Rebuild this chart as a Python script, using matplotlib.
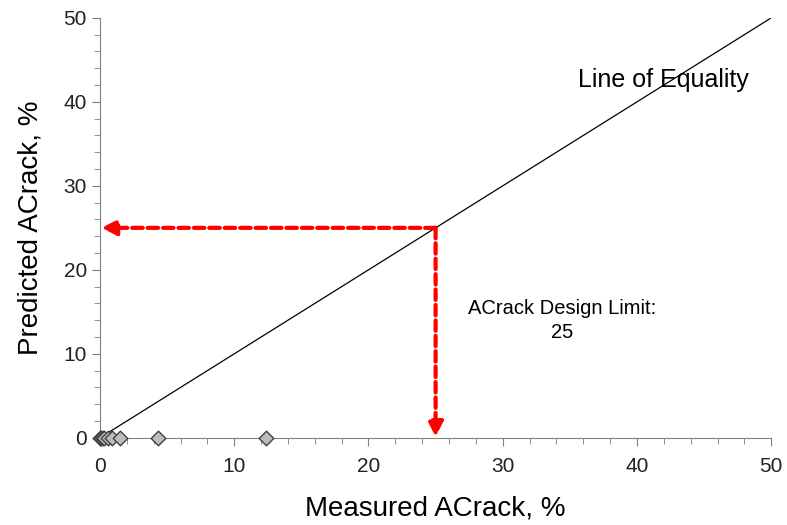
import matplotlib
matplotlib.use("Agg")
import matplotlib.pyplot as plt
from matplotlib.ticker import MultipleLocator

plt.rcParams['font.family'] = ['Liberation Sans', 'DejaVu Sans']

# measured vs predicted ACrack (%)
measured = [0.0, 0.05, 0.1, 0.2, 0.3, 0.6, 0.9, 1.5, 4.3, 12.4]
predicted = [0, 0, 0, 0, 0, 0, 0, 0, 0, 0]
equality = [0, 50]
design_limit = 25

fig = plt.figure(figsize=(7.87, 5.25), dpi=100)
ax = fig.add_axes([0.127, 0.166, 0.853, 0.8])

ax.plot(equality, equality, color='black', lw=0.9, zorder=2)
ax.scatter(measured, predicted, marker='D', s=55, facecolor='#bdbdbd',
           edgecolor='#404040', linewidth=1, zorder=4, clip_on=False)

# design limit arrows
arrow = dict(arrowstyle='-|>', color='red', lw=3, linestyle=(0, (2.5, 1.2)),
             mutation_scale=22, shrinkA=0, shrinkB=0)
ax.annotate('', xy=(0.1, design_limit), xytext=(design_limit, design_limit),
            arrowprops=arrow, zorder=3)
ax.annotate('', xy=(design_limit, 0.1), xytext=(design_limit, design_limit),
            arrowprops=arrow, zorder=3)

ax.text(35.6, 42.6, 'Line of Equality', fontsize=18, va='center')
ax.text(34.4, 14.0, 'ACrack Design Limit:\n25', fontsize=14.5, ha='center',
        va='center', linespacing=1.3)

ax.set_xlim(0, 50)
ax.set_ylim(0, 50)
ax.xaxis.set_major_locator(MultipleLocator(10))
ax.yaxis.set_major_locator(MultipleLocator(10))
ax.xaxis.set_minor_locator(MultipleLocator(2))
ax.yaxis.set_minor_locator(MultipleLocator(2))
for s in ['top', 'right']:
    ax.spines[s].set_visible(False)
for s in ['left', 'bottom']:
    ax.spines[s].set_color('#808080')
ax.tick_params(which='both', direction='out', color='#808080', labelsize=15,
               labelcolor='#222222')
ax.tick_params(which='major', length=6)
ax.tick_params(which='minor', length=4)
ax.tick_params(axis='x', pad=8)

ax.set_xlabel('Measured ACrack, %', fontsize=20, labelpad=14)
ax.set_ylabel('Predicted ACrack, %', fontsize=20, labelpad=14)

fig.savefig('out.png', dpi=100)
